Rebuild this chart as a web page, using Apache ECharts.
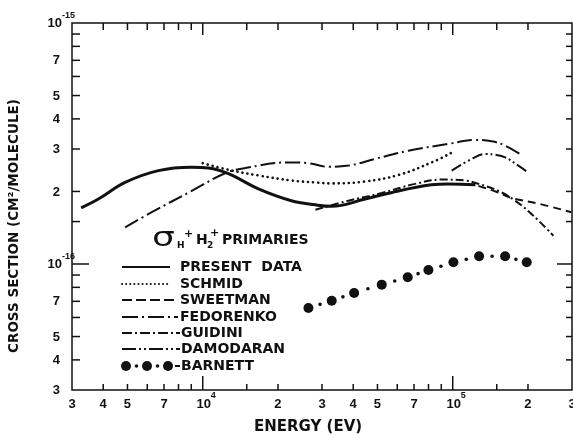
<!DOCTYPE html>
<html><head><meta charset="utf-8">
<script src="https://cdn.jsdelivr.net/npm/echarts@6/dist/echarts.min.js"></script>
<style>html,body{margin:0;padding:0;background:#fff}#c{width:573px;height:439px}</style>
</head><body><div id="c"></div>
<script>
// Energy in eV, cross section in units of 1e-16 cm^2/molecule
const presentE = [3263, 3826, 4893, 6649, 9012, 10537, 12668, 16706, 22637, 28236, 32721, 44633, 60659, 82185, 96116, 123270];
const presentS = [1.71, 1.86, 2.18, 2.44, 2.52, 2.50, 2.37, 2.05, 1.83, 1.76, 1.735, 1.86, 2.01, 2.13, 2.15, 2.13];
const schmidE = [10000, 12668, 16706, 22699, 28158, 32810, 44633, 60659, 82414, 100000];
const schmidS = [2.62, 2.46, 2.33, 2.22, 2.18, 2.16, 2.20, 2.34, 2.64, 2.91];
const sweetmanE = [126680, 150000, 171740, 220000, 298460];
const sweetmanS = [2.11, 1.99, 1.88, 1.78, 1.64];
const fedorenkoE = [4893, 6252, 9037, 12292, 14777, 22018, 26475, 31834, 38275, 48929, 66495, 96116, 122930, 143219, 162032, 188799];
const fedorenkoS = [1.42, 1.64, 2.01, 2.38, 2.50, 2.64, 2.62, 2.53, 2.56, 2.73, 2.95, 3.15, 3.27, 3.23, 3.10, 2.83];
const guidiniE = [28236, 38275, 52000, 70729, 90365, 112100, 126680, 152320, 177750, 207010, 252810];
const guidiniS = [1.68, 1.83, 1.97, 2.15, 2.24, 2.22, 2.15, 2.01, 1.83, 1.61, 1.31];
const damodaranE = [99083, 119124, 134834, 147774, 162032, 183137, 200834];
const damodaranS = [2.44, 2.73, 2.86, 2.84, 2.77, 2.56, 2.39];
const barnettE = [26475, 32810, 40335, 52000, 66069, 79940, 100650, 127500, 162030, 197700];
const barnettS = [0.657, 0.704, 0.758, 0.821, 0.881, 0.944, 1.016, 1.076, 1.076, 1.016];

// axis ticks and labels
const xMinorTicks = [4000, 5000, 6000, 7000, 8000, 9000, 15000, 20000, 30000, 40000, 50000, 60000, 70000, 80000, 90000, 150000, 200000];
const xMajorTicks = [10000, 100000];
const yMinorTicks = [0.4, 0.5, 0.6, 0.7, 0.8, 0.9, 1.5, 2, 3, 4, 5, 6, 7, 8, 9];
const yMajorTicks = [1];
const xLabelVals = [3000, 4000, 5000, 7000, 10000, 20000, 30000, 40000, 50000, 70000, 100000, 200000, 300000];
const xLabelText = ['3', '4', '5', '7', '10', '2', '3', '4', '5', '7', '10', '2', '3'];
const xLabelSup = ['', '', '', '', '4', '', '', '', '', '', '5', '', ''];
const yLabelVals = [10, 7, 5, 4, 3, 2, 1, 0.7, 0.5, 0.4, 0.3];
const yLabelText = ['10', '7', '5', '4', '3', '2', '10', '7', '5', '4', '3'];
const yLabelSup = ['-15', '', '', '', '', '', '-16', '', '', '', ''];

const X_MIN = 3000, X_MAX = 300000, Y_MIN = 0.3, Y_MAX = 10;
const INK = '#111';
const LBL_FONT = 'bold 13px "Liberation Sans", Arial, sans-serif';
const SUP_FONT = 'bold 9px "Liberation Sans", Arial, sans-serif';
const WORD_FONT = 'bold 14px "DejaVu Sans", sans-serif';

const zip = (a, b) => a.map((v, i) => [v, b[i]]);

const chart = echarts.init(document.getElementById('c'), null, {renderer: 'canvas'});

function lineSeries(name, E, S, style) {
  return {
    name, type: 'line', data: zip(E, S), smooth: 0.4, symbol: 'none', silent: true,
    lineStyle: Object.assign({color: INK, width: 2}, style), z: 3
  };
}

const xTickData = xMinorTicks.map(v => [v, 1, 0]).concat(xMajorTicks.map(v => [v, 1, 1]));
const yTickData = yMinorTicks.map(v => [10000, v, 0]).concat(yMajorTicks.map(v => [10000, v, 1]));

function seg(x1, y1, x2, y2) {
  return {type: 'line', shape: {x1, y1, x2, y2}, style: {stroke: INK, lineWidth: 1.5}};
}

const option = {
  animation: false,
  backgroundColor: '#fff',
  grid: {left: 72, right: 1, top: 23, bottom: 49, show: true, borderColor: INK, borderWidth: 1.5, backgroundColor: 'transparent'},
  xAxis: {type: 'log', logBase: 10, min: X_MIN, max: X_MAX,
    axisLine: {show: false}, axisTick: {show: false}, axisLabel: {show: false}, splitLine: {show: false}, minorTick: {show: false}},
  yAxis: {type: 'log', logBase: 10, min: Y_MIN, max: Y_MAX,
    axisLine: {show: false}, axisTick: {show: false}, axisLabel: {show: false}, splitLine: {show: false}, minorTick: {show: false}},
  series: [
    lineSeries('PRESENT DATA', presentE, presentS, {width: 3}),
    lineSeries('SCHMID', schmidE, schmidS, {width: 2.6, type: [0.1, 5], cap: 'round'}),
    lineSeries('SWEETMAN', sweetmanE, sweetmanS, {type: [8, 5]}),
    lineSeries('FEDORENKO', fedorenkoE, fedorenkoS, {type: [15, 4, 2, 4]}),
    lineSeries('GUIDINI', guidiniE, guidiniS, {type: [8, 3, 2, 3]}),
    lineSeries('DAMODARAN', damodaranE, damodaranS, {type: [11, 3, 2, 3, 2, 3]}),
    {
      name: 'BARNETT', type: 'custom', data: zip(barnettE, barnettS), silent: true, z: 4,
      renderItem(params, api) {
        const i = params.dataIndex;
        const p = api.coord([api.value(0), api.value(1)]);
        const ch = [{type: 'circle', shape: {cx: p[0], cy: p[1], r: 5}, style: {fill: INK}}];
        if (i < barnettE.length - 1) {
          const q = api.coord([barnettE[i + 1], barnettS[i + 1]]);
          ch.push({type: 'circle', shape: {cx: (p[0] + q[0]) / 2, cy: (p[1] + q[1]) / 2, r: 1.8}, style: {fill: INK}});
        }
        return {type: 'group', children: ch};
      }
    },
    {
      name: 'xticks', type: 'custom', data: xTickData, silent: true, clip: false,
      renderItem(params, api) {
        const v = api.value(0), major = api.value(2);
        const b = api.coord([v, Y_MIN]), t = api.coord([v, Y_MAX]);
        const lb = major ? 14 : 6, lt = major ? 12 : 7;
        return {type: 'group', children: [seg(b[0], b[1], b[0], b[1] - lb), seg(t[0], t[1], t[0], t[1] + lt)]};
      }
    },
    {
      name: 'yticks', type: 'custom', data: yTickData, silent: true, clip: false,
      renderItem(params, api) {
        const v = api.value(1), major = api.value(2);
        const l = api.coord([X_MIN, v]), r = api.coord([X_MAX, v]);
        const ll = major ? 17 : 8, lr = major ? 15 : 6;
        return {type: 'group', children: [seg(l[0], l[1], l[0] + ll, l[1]), seg(r[0], r[1], r[0] - lr, r[1])]};
      }
    },
    {
      name: 'xlabels', type: 'custom', data: xLabelVals.map(v => [v, Y_MIN]), silent: true, clip: false,
      renderItem(params, api) {
        const i = params.dataIndex;
        const p = api.coord([api.value(0), Y_MIN]);
        const sup = xLabelSup[i];
        const ch = [{type: 'text', x: p[0] + (sup ? 1 : 0), y: p[1] + 14,
          style: {text: xLabelText[i], font: LBL_FONT, fill: INK, align: 'center', verticalAlign: 'middle'}}];
        if (sup) ch.push({type: 'text', x: p[0] + 8, y: p[1] + 6,
          style: {text: sup, font: SUP_FONT, fill: INK, align: 'left', verticalAlign: 'middle'}});
        return {type: 'group', children: ch};
      }
    },
    {
      name: 'ylabels', type: 'custom', data: yLabelVals.map(v => [X_MIN, v]), silent: true, clip: false,
      renderItem(params, api) {
        const i = params.dataIndex;
        const p = api.coord([X_MIN, api.value(1)]);
        const sup = yLabelSup[i];
        const ch = [{type: 'text', x: sup ? p[0] - 10 : p[0] - 12, y: p[1] + 0.5,
          style: {text: yLabelText[i], font: LBL_FONT, fill: INK, align: 'right', verticalAlign: 'middle'}}];
        if (sup) ch.push({type: 'text', x: p[0] - 10, y: p[1] - 7,
          style: {text: sup, font: SUP_FONT, fill: INK, align: 'left', verticalAlign: 'middle'}});
        return {type: 'group', children: ch};
      }
    }
  ],
  graphic: {elements: [
    {type: 'text', x: 14, y: 226, rotation: Math.PI / 2,
      style: {text: 'CROSS SECTION (CM²/MOLECULE)', font: 'bold 13.5px "DejaVu Sans", sans-serif', fill: INK, align: 'center', verticalAlign: 'middle'}},
    {type: 'text', x: 308, y: 427,
      style: {text: 'ENERGY (EV)', font: 'bold 15px "DejaVu Sans", sans-serif', fill: INK, align: 'center', verticalAlign: 'middle'}},
    // heading
    {type: 'text', x: 152, y: 239, scaleX: 1.5, scaleY: 1.1,
      style: {text: 'σ', font: '24px "DejaVu Sans", sans-serif', fill: INK, align: 'left', verticalAlign: 'middle'}},
    {type: 'text', x: 177, y: 246, style: {text: 'H', font: 'bold 9px "DejaVu Sans", sans-serif', fill: INK, verticalAlign: 'middle'}},
    {type: 'text', x: 184, y: 234, style: {text: '+', font: 'bold 11px "DejaVu Sans", sans-serif', fill: INK, verticalAlign: 'middle'}},
    {type: 'text', x: 196, y: 240, style: {text: 'H', font: WORD_FONT, fill: INK, verticalAlign: 'middle'}},
    {type: 'text', x: 207, y: 246, style: {text: '2', font: 'bold 9px "DejaVu Sans", sans-serif', fill: INK, verticalAlign: 'middle'}},
    {type: 'text', x: 210, y: 233, style: {text: '+', font: 'bold 11px "DejaVu Sans", sans-serif', fill: INK, verticalAlign: 'middle'}},
    {type: 'text', x: 222, y: 240, style: {text: 'PRIMARIES', font: WORD_FONT, fill: INK, verticalAlign: 'middle'}},
    // legend samples
    {type: 'line', shape: {x1: 122, y1: 267, x2: 170, y2: 267}, style: {stroke: INK, lineWidth: 2}},
    {type: 'line', shape: {x1: 122, y1: 284, x2: 170, y2: 284}, style: {stroke: INK, lineWidth: 2, lineDash: [0.1, 4], lineCap: 'round'}},
    {type: 'line', shape: {x1: 122, y1: 300, x2: 174, y2: 300}, style: {stroke: INK, lineWidth: 2, lineDash: [10, 4]}},
    {type: 'line', shape: {x1: 122, y1: 317, x2: 178, y2: 317}, style: {stroke: INK, lineWidth: 2, lineDash: [16, 4, 2, 4]}},
    {type: 'line', shape: {x1: 122, y1: 333, x2: 180, y2: 333}, style: {stroke: INK, lineWidth: 2, lineDash: [10, 3, 2, 3]}},
    {type: 'line', shape: {x1: 122, y1: 349, x2: 180, y2: 349}, style: {stroke: INK, lineWidth: 2, lineDash: [14, 3, 2, 3, 2, 3]}},
    {type: 'circle', shape: {cx: 126, cy: 366, r: 5}, style: {fill: INK}},
    {type: 'circle', shape: {cx: 136.5, cy: 366, r: 1.8}, style: {fill: INK}},
    {type: 'circle', shape: {cx: 147, cy: 366, r: 5}, style: {fill: INK}},
    {type: 'circle', shape: {cx: 157.5, cy: 366, r: 1.8}, style: {fill: INK}},
    {type: 'circle', shape: {cx: 168, cy: 366, r: 5}, style: {fill: INK}},
    {type: 'line', shape: {x1: 175, y1: 366, x2: 180, y2: 366}, style: {stroke: INK, lineWidth: 2}},
    {type: 'text', x: 180, y: 267, style: {text: 'PRESENT  DATA', font: WORD_FONT, fill: INK, verticalAlign: 'middle'}},
    {type: 'text', x: 180, y: 284, style: {text: 'SCHMID', font: WORD_FONT, fill: INK, verticalAlign: 'middle'}},
    {type: 'text', x: 180, y: 300, style: {text: 'SWEETMAN', font: WORD_FONT, fill: INK, verticalAlign: 'middle'}},
    {type: 'text', x: 180, y: 317, style: {text: 'FEDORENKO', font: WORD_FONT, fill: INK, verticalAlign: 'middle'}},
    {type: 'text', x: 181, y: 333, style: {text: 'GUIDINI', font: WORD_FONT, fill: INK, verticalAlign: 'middle'}},
    {type: 'text', x: 181, y: 349, style: {text: 'DAMODARAN', font: WORD_FONT, fill: INK, verticalAlign: 'middle'}},
    {type: 'text', x: 181, y: 366, style: {text: 'BARNETT', font: WORD_FONT, fill: INK, verticalAlign: 'middle'}}
  ]}
};
chart.setOption(option);
</script>
</body></html>
